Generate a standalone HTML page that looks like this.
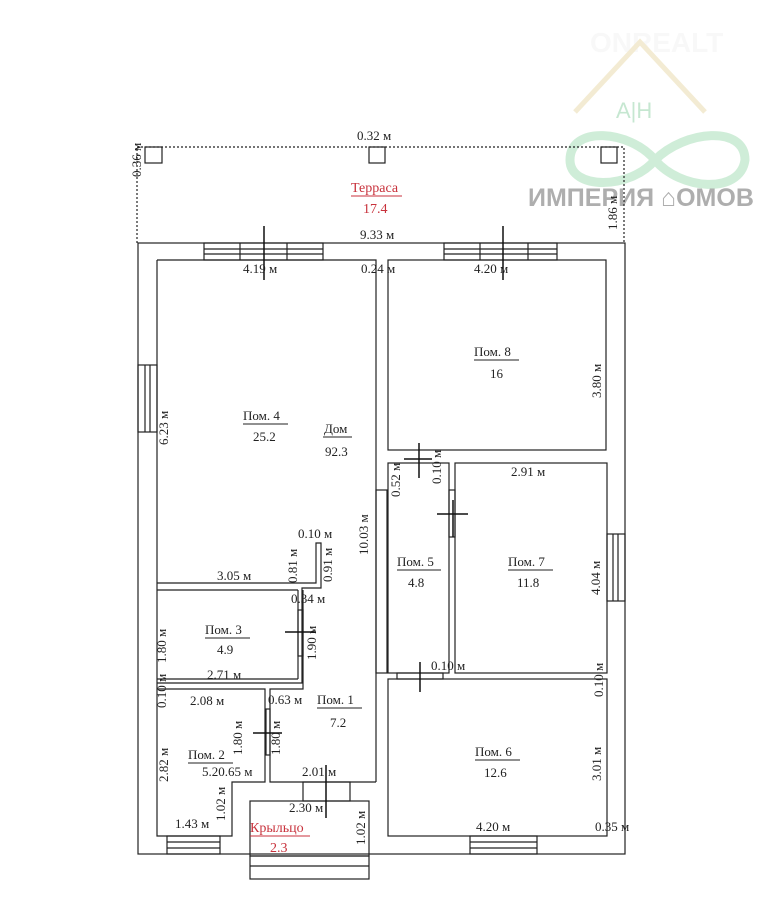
<!DOCTYPE html>
<html><head><meta charset="utf-8"><style>
html,body{margin:0;padding:0;background:#fff;}
svg{display:block;}
text{font-family:"Liberation Serif",serif;font-size:13px;fill:#222;}
.r{fill:#c8323c;}
</style></head><body>
<svg width="771" height="910" viewBox="0 0 771 910" xmlns="http://www.w3.org/2000/svg">
<!-- watermark -->
<g opacity="0.5">
<text x="590" y="52" style="font-family:'Liberation Sans',sans-serif;font-size:28px;font-weight:bold;fill:#f2f2f2">ONREALT</text>
<polyline points="575,112 640,42 705,112" fill="none" stroke="#e8d9a8" stroke-width="5"/>
<text x="616" y="118" style="font-family:'Liberation Sans',sans-serif;font-size:22px;fill:#8fd1a4">A|H</text>
<path d="M570,160 C570,125 630,130 655,160 C680,190 740,195 745,160 C745,125 685,130 655,160 C630,190 570,190 570,160Z" fill="none" stroke="#9fdcb1" stroke-width="9"/>
</g>
<text x="528" y="206" style="font-family:'Liberation Sans',sans-serif;font-size:25px;font-weight:bold;fill:#a0a0a0;opacity:0.85">ИМПЕРИЯ ⌂ОМОВ</text>

<g fill="none" stroke="#222" stroke-width="1.2">
<!-- terrace -->
<polyline points="137,243 137,147 624,147 624,243" stroke-dasharray="2,2"/>
<rect x="145" y="147" width="17" height="16"/>
<rect x="369" y="147" width="16" height="16"/>
<rect x="601" y="147" width="16" height="16"/>
<!-- outer -->
<rect x="138" y="243" width="487" height="611"/>
<!-- Pom4 -->
<polyline points="157,260 376,260 376,782"/>
<polyline points="157,260 157,836 232,836 232,782 265,782 265,689 157,689"/>
<polyline points="157,583 316,583 316,543 321,543 321,588 302,588 302,683 157,683"/>
<line x1="157" y1="590" x2="298" y2="590"/>
<line x1="298" y1="590" x2="298" y2="679"/>
<line x1="157" y1="679" x2="298" y2="679"/>
<polyline points="321,588 321,588"/>
<polyline points="303,590 303,689 270,689 270,782 376,782"/>
<!-- right rooms -->
<rect x="388" y="260" width="218" height="190"/>
<rect x="388" y="463" width="61" height="210"/>
<rect x="455" y="463" width="152" height="210"/>
<rect x="388" y="679" width="219" height="157"/>
<rect x="376" y="490" width="11" height="183"/>
<!-- windows -->
<rect x="204" y="243" width="119" height="17"/><line x1="204" y1="249" x2="323" y2="249"/><line x1="204" y1="254" x2="323" y2="254"/><line x1="240" y1="243" x2="240" y2="260"/><line x1="287" y1="243" x2="287" y2="260"/>
<rect x="444" y="243" width="113" height="17"/><line x1="444" y1="249" x2="557" y2="249"/><line x1="444" y1="254" x2="557" y2="254"/><line x1="480" y1="243" x2="480" y2="260"/><line x1="528" y1="243" x2="528" y2="260"/>
<rect x="138" y="365" width="19" height="67"/><line x1="145" y1="365" x2="145" y2="432"/><line x1="150" y1="365" x2="150" y2="432"/>
<rect x="607" y="534" width="18" height="67"/><line x1="613" y1="534" x2="613" y2="601"/><line x1="618" y1="534" x2="618" y2="601"/>
<rect x="167" y="836" width="53" height="18"/><line x1="167" y1="842" x2="220" y2="842"/><line x1="167" y1="848" x2="220" y2="848"/>
<rect x="470" y="836" width="67" height="18"/><line x1="470" y1="842" x2="537" y2="842"/><line x1="470" y1="848" x2="537" y2="848"/>
<!-- porch -->
<rect x="303" y="782" width="47" height="19"/>
<rect x="250" y="801" width="119" height="55"/>
<rect x="250" y="856" width="119" height="23"/><line x1="250" y1="866" x2="369" y2="866"/>
<!-- doors -->
<rect x="449" y="490" width="6" height="47"/>
<rect x="397" y="673" width="46" height="6"/>
<rect x="266" y="709" width="4" height="46"/>
<rect x="298" y="610" width="5" height="46"/>
</g>
<g stroke="#111" stroke-width="1.5">
<line x1="264" y1="226" x2="264" y2="280"/><line x1="503" y1="226" x2="503" y2="280"/>
<line x1="419" y1="443" x2="419" y2="478"/><line x1="404" y1="459" x2="432" y2="459"/>
<line x1="453" y1="500" x2="453" y2="537"/><line x1="437" y1="514" x2="468" y2="514"/>
<line x1="285" y1="632" x2="316" y2="632"/>
<line x1="253" y1="733" x2="282" y2="733"/>
<line x1="420" y1="662" x2="420" y2="692"/>
<line x1="326" y1="765" x2="326" y2="818"/>
</g>

<!-- labels -->
<text x="357" y="140">0.32 м</text>
<text x="360" y="239">9.33 м</text>
<text x="243" y="273">4.19 м</text>
<text x="361" y="273">0.24 м</text>
<text x="474" y="273">4.20 м</text>
<text x="351" y="192" class="r" style="font-size:14px">Терраса</text>
<line x1="351" y1="196" x2="402" y2="196" stroke="#c8323c"/>
<text x="363" y="213" class="r" style="font-size:14px">17.4</text>
<text transform="translate(141,177) rotate(-90)">0.36 м</text>
<text transform="translate(617,230) rotate(-90)">1.86 м</text>
<text x="243" y="420">Пом. 4</text><line x1="243" y1="424" x2="288" y2="424" stroke="#222"/><text x="253" y="441">25.2</text>
<text x="324" y="433">Дом</text><line x1="323" y1="437" x2="352" y2="437" stroke="#222"/><text x="325" y="456">92.3</text>
<text transform="translate(168,445) rotate(-90)">6.23 м</text>
<text x="474" y="356">Пом. 8</text><line x1="474" y1="360" x2="519" y2="360" stroke="#222"/><text x="490" y="378">16</text>
<text transform="translate(601,398) rotate(-90)">3.80 м</text>
<text transform="translate(400,497) rotate(-90)">0.52 м</text>
<text transform="translate(441,484) rotate(-90)">0.10 м</text>
<text x="511" y="476">2.91 м</text>
<text x="397" y="566">Пом. 5</text><line x1="397" y1="570" x2="441" y2="570" stroke="#222"/><text x="408" y="587">4.8</text>
<text x="508" y="566">Пом. 7</text><line x1="508" y1="570" x2="553" y2="570" stroke="#222"/><text x="517" y="587">11.8</text>
<text transform="translate(600,595) rotate(-90)">4.04 м</text>
<text transform="translate(368,555) rotate(-90)">10.03 м</text>
<text x="298" y="538">0.10 м</text>
<text transform="translate(297,583) rotate(-90)">0.81 м</text>
<text transform="translate(332,582) rotate(-90)">0.91 м</text>
<text x="217" y="580">3.05 м</text>
<text x="291" y="603">0.34 м</text>
<text x="205" y="634">Пом. 3</text><line x1="205" y1="638" x2="250" y2="638" stroke="#222"/><text x="217" y="654">4.9</text>
<text transform="translate(166,663) rotate(-90)">1.80 м</text>
<text transform="translate(316,660) rotate(-90)">1.90 м</text>
<text x="207" y="679">2.71 м</text>
<text x="431" y="670">0.10 м</text>
<text transform="translate(603,697) rotate(-90)">0.10 м</text>
<text transform="translate(166,708) rotate(-90)">0.10 м</text>
<text x="190" y="705">2.08 м</text>
<text x="268" y="704">0.63 м</text>
<text x="317" y="704">Пом. 1</text><line x1="317" y1="708" x2="362" y2="708" stroke="#222"/><text x="330" y="727">7.2</text>
<text transform="translate(242,755) rotate(-90)">1.80 м</text>
<text transform="translate(280,755) rotate(-90)">1.80 м</text>
<text x="188" y="759">Пом. 2</text><line x1="188" y1="763" x2="233" y2="763" stroke="#222"/>
<text x="202" y="776">5.20.65 м</text>
<text transform="translate(168,782) rotate(-90)">2.82 м</text>
<text x="302" y="776">2.01 м</text>
<text x="289" y="812">2.30 м</text>
<text transform="translate(225,821) rotate(-90)">1.02 м</text>
<text x="175" y="828">1.43 м</text>
<text transform="translate(365,845) rotate(-90)">1.02 м</text>
<text x="250" y="832" class="r" style="font-size:14px">Крыльцо</text>
<line x1="250" y1="836" x2="310" y2="836" stroke="#c8323c"/>
<text x="270" y="852" class="r" style="font-size:14px">2.3</text>
<text x="475" y="756">Пом. 6</text><line x1="475" y1="760" x2="520" y2="760" stroke="#222"/><text x="484" y="777">12.6</text>
<text transform="translate(601,781) rotate(-90)">3.01 м</text>
<text x="476" y="831">4.20 м</text>
<text x="595" y="831">0.35 м</text>
</svg>
</body></html>
